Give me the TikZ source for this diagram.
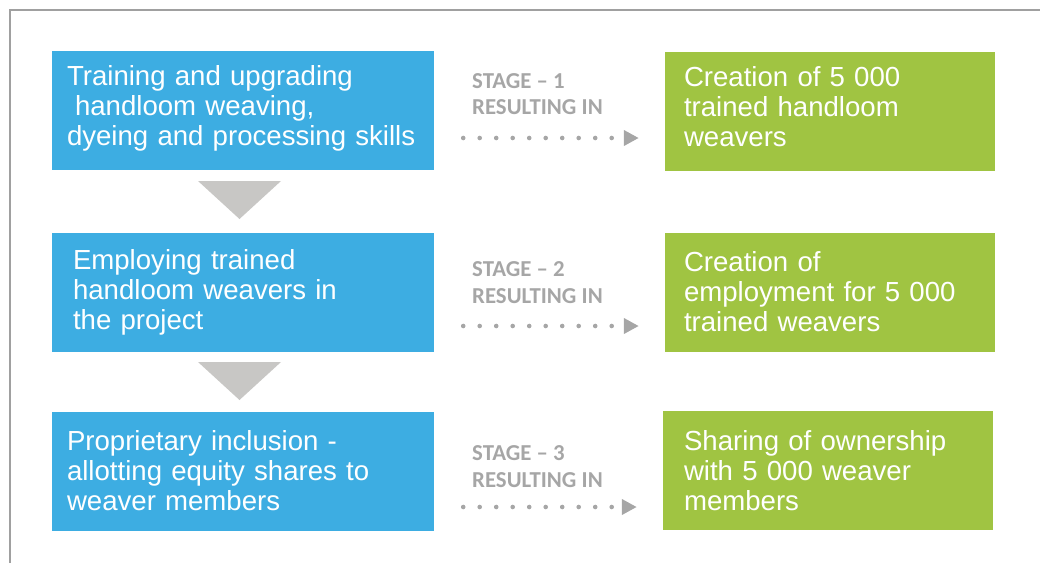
\documentclass[tikz,border=0pt]{standalone}
\usepackage{fontspec}
\setmainfont{Liberation Sans}
\newfontfamily\stagefont{Carlito}
\usetikzlibrary{arrows.meta}
\definecolor{boxblue}{HTML}{3DADE2}
\definecolor{boxgreen}{HTML}{A0C442}
\definecolor{stagegray}{HTML}{A6A6A6}
\definecolor{trigray}{HTML}{C8C7C5}
\definecolor{framegray}{HTML}{A0A0A0}

\begin{document}
\begin{tikzpicture}[x=1pt,y=-1pt,
    task/.style={fill=boxblue, text=white, minimum width=382pt, minimum height=119pt,
        text width=352pt, inner xsep=15pt, align=left, font=\fontsize{27.6}{30}\selectfont},
    result/.style={fill=boxgreen, text=white, minimum width=330pt, minimum height=119pt,
        text width=292pt, inner xsep=19pt, align=left, font=\fontsize{27.6}{30}\selectfont},
    stage/.style={anchor=west, inner sep=0pt, align=left, text=stagegray,
        font=\stagefont\bfseries\fontsize{22.8}{26.5}\selectfont},
    down/.style={fill=trigray},
    resarrow/.style={stagegray, line width=4.6pt, line cap=round, dash pattern=on 0pt off 16.5pt,
        shorten <=29pt, shorten >=26pt, -{Triangle[length=15pt,width=15pt]}}]
        \useasboundingbox (0,0) rectangle (1040,563);
        \draw[framegray, line width=1.5pt] (10,563) -- (10,10) -- (1040,10);

        % what is done
        \node[task] (b1) at (243,110.5) {Training and upgrading\\\hspace*{8pt}handloom weaving,\\dyeing and processing skills\vspace*{5pt}};
        \node[task, inner xsep=21pt, text width=340pt] (b2) at (243,292) {Employing trained\\handloom weavers in\\the project};
        \node[task] (b3) at (243,471) {Proprietary inclusion -\\allotting equity shares to\\weaver members};

        % what comes of it
        \node[result] (g1) at (830,111.5) {Creation of 5 000\\trained handloom\\weavers\vspace*{10pt}};
        \node[result] (g2) at (830,292) {Creation of\\employment for 5 000\\trained weavers};
        \node[result, inner xsep=21pt, text width=288pt] (g3) at (828,470.5) {Sharing of ownership\\with 5 000 weaver\\members};

        \node[stage] (s1) at (472,94) {STAGE – 1\\RESULTING IN};
        \node[stage] (s2) at (472,282.5) {STAGE – 2\\RESULTING IN};
        \node[stage] (s3) at (472,466.5) {STAGE – 3\\RESULTING IN};

        \foreach \ty in {181,362}
            \fill[down] (198,\ty) -- (281,\ty) -- (239.5,\ty+38) -- cycle;

        \draw[resarrow] (b1.east |- 0,138) -- (g1.west |- 0,138);
        \draw[resarrow] (b2.east |- 0,326) -- (g2.west |- 0,326);
        \draw[resarrow] (b3.east |- 0,507) -- (g3.west |- 0,507);
    \end{tikzpicture}
\end{document}
